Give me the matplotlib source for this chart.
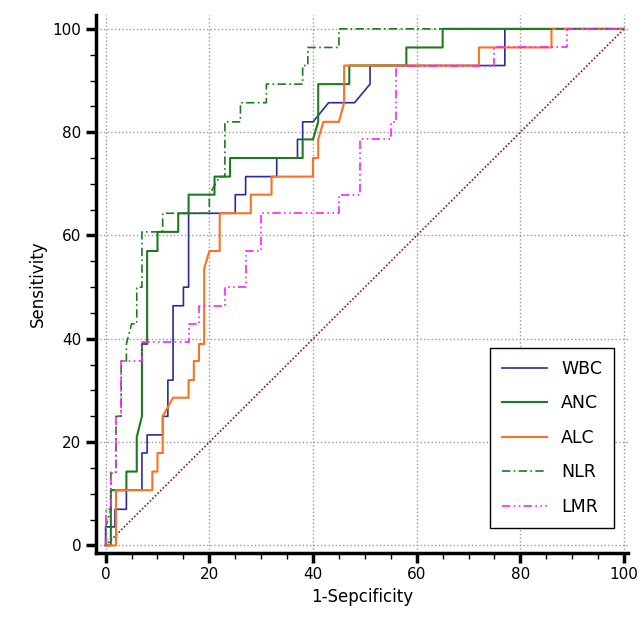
import numpy as np
import matplotlib.pyplot as plt

wbc_x = [0, 0, 1.8, 1.8, 4, 4, 7, 7, 8, 8, 11, 11, 12, 12, 13, 13, 15, 15, 16, 16, 25, 25, 27, 27, 33, 33, 37, 37, 38, 38, 40, 43, 48, 51, 51, 77, 77, 100]
wbc_y = [0, 3.6, 3.6, 7, 7, 10.7, 10.7, 17.9, 17.9, 21.4, 21.4, 25, 25, 32, 32, 46.4, 46.4, 50, 50, 64.3, 64.3, 67.9, 67.9, 71.4, 71.4, 75, 75, 78.6, 78.6, 82, 82, 85.7, 85.7, 89.3, 92.9, 92.9, 100, 100]

anc_x = [0, 1, 1, 4, 4, 6, 6, 7, 7, 8, 8, 10, 10, 14, 14, 16, 16, 21, 21, 24, 24, 38, 38, 40, 41, 41, 47, 47, 58, 58, 65, 65, 100]
anc_y = [0, 0, 10.7, 10.7, 14.3, 14.3, 21, 25, 39, 39, 57, 57, 60.7, 60.7, 64.3, 64.3, 67.9, 67.9, 71.4, 71.4, 75, 75, 78.6, 78.6, 82, 89.3, 89.3, 92.9, 92.9, 96.4, 96.4, 100, 100]

alc_x = [0, 2, 2, 9, 9, 10, 10, 11, 11, 13, 16, 16, 17, 17, 18, 18, 19, 19, 20, 22, 22, 28, 28, 32, 32, 40, 40, 41, 41, 42, 45, 46, 46, 72, 72, 86, 86, 100]
alc_y = [0, 0, 10.7, 10.7, 14.3, 14.3, 17.9, 17.9, 25, 28.6, 28.6, 32, 32, 35.7, 35.7, 39, 39, 53.6, 57, 57, 64.3, 64.3, 67.9, 67.9, 71.4, 71.4, 75, 75, 78.6, 82, 82, 85.7, 92.9, 92.9, 96.4, 96.4, 100, 100]

nlr_x = [0, 0, 1, 1, 2, 2, 3, 3, 4, 4, 5, 6, 6, 7, 7, 11, 11, 20, 20, 22, 23, 23, 26, 26, 31, 31, 38, 38, 39, 39, 45, 45, 100]
nlr_y = [0, 3.6, 7, 14, 14, 25, 25, 35.7, 35.7, 39, 42.9, 42.9, 50, 50, 60.7, 60.7, 64.3, 64.3, 67.9, 71.4, 71.4, 82, 82, 85.7, 85.7, 89.3, 89.3, 92.9, 92.9, 96.4, 96.4, 100, 100]

lmr_x = [0, 0, 1, 1, 2, 2, 3, 3, 7, 7, 16, 16, 18, 18, 23, 23, 27, 27, 30, 30, 45, 45, 49, 49, 55, 55, 56, 56, 75, 75, 89, 89, 100]
lmr_y = [0, 7, 7, 14.3, 14.3, 25, 25, 35.7, 35.7, 39.3, 39.3, 42.9, 42.9, 46.4, 46.4, 50, 50, 57, 57, 64.3, 64.3, 67.9, 67.9, 78.6, 78.6, 82, 82, 92.9, 92.9, 96.4, 96.4, 100, 100]

ref = [0, 100]

fig, ax = plt.subplots(figsize=(6.43, 6.21), dpi=100)
fig.subplots_adjust(left=0.149, right=0.977, top=0.976, bottom=0.11)

ax.plot(ref, ref, color="#8b1a1a", linestyle=(0, (1, 1.2)), linewidth=1.2)
ax.plot(wbc_x, wbc_y, color="#2b2b9e", linewidth=1.2, label="WBC")
ax.plot(anc_x, anc_y, color="#1e7a1e", linewidth=1.5, label="ANC")
ax.plot(alc_x, alc_y, color="#ff7020", linewidth=1.5, label="ALC")
ax.plot(nlr_x, nlr_y, color="#1e7a1e", linewidth=1.2, linestyle=(0, (5, 2, 1, 2)), label="NLR")
ax.plot(lmr_x, lmr_y, color="#ff20ff", linewidth=1.2, linestyle=(0, (5, 2, 1, 2, 1, 2)), label="LMR")

ax.set_xlim(-1.9, 100.8)
ax.set_ylim(-1.4, 102.7)
ax.set_xticks(np.arange(0, 101, 20))
ax.set_yticks(np.arange(0, 101, 20))
ax.set_xticks(np.arange(0, 101, 5), minor=True)
ax.set_yticks(np.arange(0, 101, 5), minor=True)
ax.grid(True, which="major", color="#999999", linestyle=":", linewidth=1)
ax.tick_params(which="major", direction="out", length=7, width=2.5, labelsize=11)
ax.tick_params(which="minor", direction="out", length=4, width=1)
for s in ["top", "right"]:
    ax.spines[s].set_visible(False)
for s in ["left", "bottom"]:
    ax.spines[s].set_linewidth(2.5)
ax.set_xlabel("1-Sepcificity", fontsize=12)
ax.set_ylabel("Sensitivity", fontsize=12)

leg = ax.legend(loc="lower right", bbox_to_anchor=(0.99, 0.03), fontsize=12.5,
                fancybox=False, framealpha=1, edgecolor="black", handlelength=2.6,
                borderpad=0.7, labelspacing=0.95)
leg.get_frame().set_linewidth(1)

fig.savefig("out.png", dpi=100)
